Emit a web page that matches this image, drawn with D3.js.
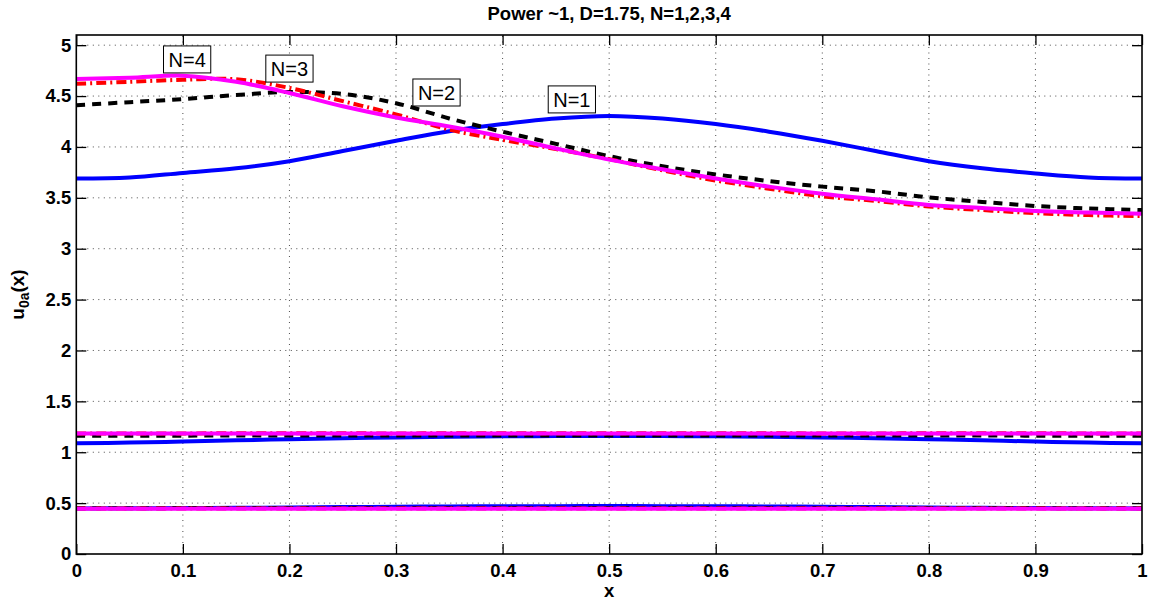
<!DOCTYPE html>
<html>
<head>
<meta charset="utf-8">
<script src="https://cdn.jsdelivr.net/npm/d3@7"></script>
<style>
  html, body { margin: 0; padding: 0; background: #fff; }
  svg { display: block; font-family: "Liberation Sans", Arial, sans-serif; }
</style>
</head>
<body>
<svg id="chart" width="1152" height="603"></svg>
<script>
// Power ~1, D=1.75 : u0a(x) pour N=1..4, trois branches chacune.
// Valeurs lues sur la figure, pas de 0.05 en x.

const X_VALUES = [0, 0.05, 0.1, 0.15, 0.2, 0.25, 0.3, 0.35, 0.4, 0.45, 0.5,
                  0.55, 0.6, 0.65, 0.7, 0.75, 0.8, 0.85, 0.9, 0.95, 1];

const X_TICKS = [0, 0.1, 0.2, 0.3, 0.4, 0.5, 0.6, 0.7, 0.8, 0.9, 1];
const Y_TICKS = [0, 0.5, 1, 1.5, 2, 2.5, 3, 3.5, 4, 4.5, 5];

// N=1 (bleu)
const N1_UPPER  = [3.69, 3.70, 3.745, 3.79, 3.86, 3.96, 4.06, 4.155, 4.225, 4.28, 4.305,
                   4.28, 4.225, 4.15, 4.06, 3.96, 3.86, 3.79, 3.74, 3.70, 3.69];
const N1_MIDDLE = [1.088, 1.095, 1.105, 1.117, 1.128, 1.138, 1.146, 1.152, 1.156, 1.159, 1.160,
                   1.159, 1.156, 1.152, 1.146, 1.138, 1.128, 1.117, 1.105, 1.095, 1.088];
const N1_LOWER  = [0.448, 0.449, 0.451, 0.454, 0.457, 0.461, 0.464, 0.467, 0.469, 0.470, 0.471,
                   0.470, 0.469, 0.467, 0.464, 0.461, 0.457, 0.454, 0.451, 0.449, 0.448];

// N=2 (noir, tirets)
const N2_UPPER  = [4.41, 4.44, 4.47, 4.51, 4.54, 4.52, 4.43, 4.28, 4.15, 4.03, 3.91,
                   3.81, 3.73, 3.665, 3.61, 3.565, 3.505, 3.46, 3.42, 3.395, 3.38];
const N2_MIDDLE = [1.162, 1.163, 1.163, 1.164, 1.164, 1.165, 1.165, 1.165, 1.165, 1.165, 1.165,
                   1.165, 1.165, 1.165, 1.165, 1.165, 1.164, 1.164, 1.163, 1.163, 1.162];
const N2_LOWER  = [0.450, 0.450, 0.451, 0.451, 0.452, 0.452, 0.452, 0.452, 0.452, 0.452, 0.452,
                   0.452, 0.452, 0.452, 0.452, 0.452, 0.452, 0.451, 0.451, 0.450, 0.450];

// N=3 (rouge, tiret-point)
const N3_UPPER  = [4.62, 4.64, 4.66, 4.665, 4.58, 4.45, 4.32, 4.17, 4.07, 3.98, 3.88,
                   3.77, 3.67, 3.59, 3.515, 3.47, 3.415, 3.38, 3.35, 3.33, 3.32];
const N3_MIDDLE = [1.183, 1.184, 1.185, 1.186, 1.187, 1.186, 1.185, 1.186, 1.187, 1.187, 1.187,
                   1.187, 1.187, 1.186, 1.185, 1.185, 1.186, 1.187, 1.186, 1.185, 1.184];
const N3_LOWER  = [0.447, 0.447, 0.447, 0.448, 0.448, 0.448, 0.448, 0.448, 0.448, 0.448, 0.448,
                   0.448, 0.448, 0.448, 0.448, 0.448, 0.448, 0.448, 0.447, 0.447, 0.447];

// N=4 (magenta, plein)
const N4_UPPER  = [4.667, 4.68, 4.70, 4.64, 4.53, 4.40, 4.29, 4.20, 4.10, 3.985, 3.875,
                   3.78, 3.69, 3.61, 3.54, 3.485, 3.43, 3.40, 3.37, 3.355, 3.343];
const N4_MIDDLE = [1.184, 1.184, 1.184, 1.184, 1.184, 1.184, 1.184, 1.184, 1.184, 1.184, 1.184,
                   1.184, 1.184, 1.184, 1.184, 1.184, 1.184, 1.184, 1.184, 1.184, 1.184];
const N4_LOWER  = [0.444, 0.444, 0.444, 0.444, 0.444, 0.444, 0.444, 0.444, 0.444, 0.444, 0.444,
                   0.444, 0.444, 0.444, 0.444, 0.444, 0.444, 0.444, 0.444, 0.444, 0.444];

// Étiquettes encadrées : texte, position en coordonnées de données
const LABEL_TEXT = ['N=4', 'N=3', 'N=2', 'N=1'];
const LABEL_X    = [0.104, 0.200, 0.338, 0.465];
const LABEL_Y    = [4.86, 4.77, 4.535, 4.467];

const TITLE = 'Power ~1, D=1.75, N=1,2,3,4';

(function () {
  const W = 1152, H = 603;
  const PAD = { top: 35, right: 10, bottom: 49, left: 76.3 };
  const plotW = W - PAD.left - PAD.right;
  const plotH = H - PAD.top - PAD.bottom;
  const FONT = '"Liberation Sans", Arial, sans-serif';

  const svg = d3.select('#chart');
  svg.append('rect').attr('width', W).attr('height', H).attr('fill', '#fff');

  const x = d3.scaleLinear().domain([0, 1]).range([PAD.left, PAD.left + plotW]);
  const y = d3.scaleLinear().domain([0, 5.1]).range([PAD.top + plotH, PAD.top]);

  // --- grille pointillée ---
  const grid = svg.append('g').attr('stroke', '#000').attr('stroke-width', 1)
    .attr('stroke-dasharray', '1,4.5').attr('opacity', 0.7);
  X_TICKS.slice(1, -1).forEach(t => {
    grid.append('line').attr('x1', x(t)).attr('x2', x(t)).attr('y1', y.range()[0]).attr('y2', y.range()[1]);
  });
  Y_TICKS.slice(1).forEach(t => {
    grid.append('line').attr('x1', x.range()[0]).attr('x2', x.range()[1]).attr('y1', y(t)).attr('y2', y(t));
  });

  // --- courbes ---
  const SERIES = [
    { data: [N1_UPPER, N1_MIDDLE, N1_LOWER], color: '#0000ff', dash: null },
    { data: [N2_UPPER, N2_MIDDLE, N2_LOWER], color: '#000000', dash: '9,7' },
    { data: [N3_UPPER, N3_MIDDLE, N3_LOWER], color: '#ff0000', dash: '10,4,2,4' },
    { data: [N4_UPPER, N4_MIDDLE, N4_LOWER], color: '#ff00ff', dash: null }
  ];

  const line = d3.line()
    .x((d, i) => x(X_VALUES[i]))
    .y(d => y(d))
    .curve(d3.curveCatmullRom.alpha(0.5));

  const curves = svg.append('g').attr('fill', 'none');
  SERIES.forEach(s => {
    s.data.forEach(branch => {
      curves.append('path')
        .attr('d', line(branch))
        .attr('stroke', s.color)
        .attr('stroke-width', 4)
        .attr('stroke-dasharray', s.dash);
    });
  });

  // --- axes (ticks vers l'intérieur, sur les quatre côtés) ---
  const TICK = 10;
  const fmt = d => String(d);
  const axisStyle = g => {
    g.select('.domain').remove();
    g.selectAll('.tick line').attr('stroke', '#000').attr('stroke-width', 1.3);
    g.selectAll('.tick text')
      .attr('fill', '#000')
      .style('font-family', FONT).style('font-size', '18.5px').style('font-weight', 'bold');
  };

  svg.append('g').attr('transform', `translate(0,${y.range()[0]})`)
    .call(d3.axisBottom(x).tickValues(X_TICKS).tickFormat(fmt).tickSize(-TICK).tickPadding(10))
    .call(axisStyle);
  svg.append('g').attr('transform', `translate(0,${y.range()[1]})`)
    .call(d3.axisTop(x).tickValues(X_TICKS).tickFormat('').tickSize(-TICK))
    .call(axisStyle);
  svg.append('g').attr('transform', `translate(${x.range()[0]},0)`)
    .call(d3.axisLeft(y).tickValues(Y_TICKS).tickFormat(fmt).tickSize(-TICK).tickPadding(5))
    .call(axisStyle);
  svg.append('g').attr('transform', `translate(${x.range()[1]},0)`)
    .call(d3.axisRight(y).tickValues(Y_TICKS).tickFormat('').tickSize(-TICK))
    .call(axisStyle);

  svg.append('rect')
    .attr('x', x.range()[0]).attr('y', y.range()[1])
    .attr('width', plotW).attr('height', plotH)
    .attr('fill', 'none').attr('stroke', '#000').attr('stroke-width', 1.6);

  // --- étiquettes N= encadrées ---
  LABEL_TEXT.forEach((txt, i) => {
    const g = svg.append('g').attr('transform', `translate(${x(LABEL_X[i])},${y(LABEL_Y[i])})`);
    const box = g.append('rect').attr('fill', '#fff').attr('stroke', '#000').attr('stroke-width', 1);
    const t = g.append('text')
      .attr('text-anchor', 'middle').attr('dy', '0.36em')
      .style('font-family', FONT).style('font-size', '20px')
      .text(txt);
    const bb = t.node().getBBox();
    box.attr('x', bb.x - 5).attr('y', -13.5).attr('width', bb.width + 10).attr('height', 27);
  });

  // --- titre et libellés d'axes ---
  svg.append('text')
    .attr('x', (x.range()[0] + x.range()[1]) / 2).attr('y', 20)
    .attr('text-anchor', 'middle')
    .style('font-family', FONT).style('font-size', '18.5px').style('font-weight', 'bold')
    .text(TITLE);

  svg.append('text')
    .attr('x', (x.range()[0] + x.range()[1]) / 2).attr('y', 597)
    .attr('text-anchor', 'middle')
    .style('font-family', FONT).style('font-size', '18.5px').style('font-weight', 'bold')
    .text('x');

  const yl = svg.append('text')
    .attr('transform', `translate(24,${(y.range()[0] + y.range()[1]) / 2}) rotate(-90)`)
    .attr('text-anchor', 'middle')
    .style('font-family', FONT).style('font-size', '19px').style('font-weight', 'bold');
  yl.append('tspan').text('u');
  yl.append('tspan').attr('dy', 5).style('font-size', '14px').text('0a');
  yl.append('tspan').attr('dy', -5).text('(x)');
})();
</script>
</body>
</html>
